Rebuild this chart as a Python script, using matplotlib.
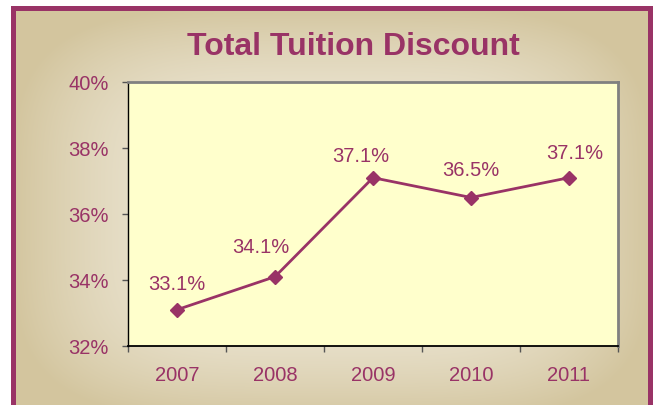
import numpy as np
import matplotlib.pyplot as plt
from matplotlib.patches import Rectangle

plt.rcParams['font.family'] = ['Liberation Sans', 'DejaVu Sans']

years = ['2007', '2008', '2009', '2010', '2011']
discount = [33.1, 34.1, 37.1, 36.5, 37.1]
point_labels = ['33.1%', '34.1%', '37.1%', '36.5%', '37.1%']
y_ticks = [32, 34, 36, 38, 40]

# label offsets in pixels (hand placed in the original)
offsets = [(0, 26), (-14, 30), (-12, 22), (0, 28), (6, 25)]

maroon = '#993366'
W, H = 653, 406

fig = plt.figure(figsize=(W / 100, H / 100), dpi=100)

# background panel with a soft gradient from the centre
bg = fig.add_axes([0, 0, 1, 1])
bg.set_xlim(0, W)
bg.set_ylim(H, 0)
bg.axis('off')
xx, yy = np.meshgrid(np.arange(W) + 0.5, np.arange(H) + 0.5)
cx, cy, hw, hh = 332, 215, 321, 208
t = ((np.abs(xx - cx) / hw) ** 4 + (np.abs(yy - cy) / hh) ** 4) ** 0.25
t = np.clip(t, 0, 1) ** 2.2
light = np.array([241, 236, 222]) / 255
tan = np.array([211, 197, 158]) / 255
img = light[None, None, :] + (tan - light)[None, None, :] * t[..., None]
bg.imshow(img, extent=(0, W, H, 0), aspect='auto', interpolation='bilinear')
bg.add_patch(Rectangle((0, 0), W, 7, color='white', lw=0))
bg.add_patch(Rectangle((0, 0), 11, H, color='white', lw=0))
bg.add_patch(Rectangle((11, 7), W - 11, 5, color=maroon, lw=0))
bg.add_patch(Rectangle((11, 7), 5, H, color=maroon, lw=0))
bg.add_patch(Rectangle((648, 7), 5, H, color=maroon, lw=0))

fig.text(353 / W, 1 - 55 / H, 'Total Tuition Discount', ha='center', va='baseline',
         fontsize=23, fontweight='bold', color=maroon)

ax = fig.add_axes([128 / W, 1 - 347 / H, 490 / W, 264 / H])
ax.set_facecolor('#FFFFCC')
x = np.arange(len(years))
ax.plot(x, discount, color=maroon, lw=2, marker='D', ms=7.5, zorder=3)
for xi, v, lab, (dx, dy) in zip(x, discount, point_labels, offsets):
    ax.annotate(lab, (xi, v), xytext=(dx, dy), textcoords='offset pixels',
                ha='center', va='center', fontsize=14.5, color=maroon)

ax.set_xlim(-0.5, len(years) - 0.5)
ax.set_ylim(32, 40)
ax.set_yticks(y_ticks)
ax.set_yticklabels([f'{v}%' for v in y_ticks])
ax.set_xticks(x)
ax.set_xticklabels(years)
ax.set_xticks(np.arange(len(years) + 1) - 0.5, minor=True)
ax.tick_params(axis='x', which='major', length=0, pad=14, labelsize=14.5, labelcolor=maroon)
ax.tick_params(axis='x', which='minor', length=4, width=1, color='#555555')
ax.tick_params(axis='y', length=4, width=1, color='#555555', pad=10,
               labelsize=14.5, labelcolor=maroon)

ax.spines['left'].set_color('black')
ax.spines['left'].set_linewidth(1)
ax.spines['bottom'].set_color('black')
ax.spines['bottom'].set_linewidth(1.3)
ax.spines['top'].set_color('#808080')
ax.spines['top'].set_linewidth(2)
ax.spines['right'].set_color('#808080')
ax.spines['right'].set_linewidth(2)

fig.savefig('out.png', dpi=100)
